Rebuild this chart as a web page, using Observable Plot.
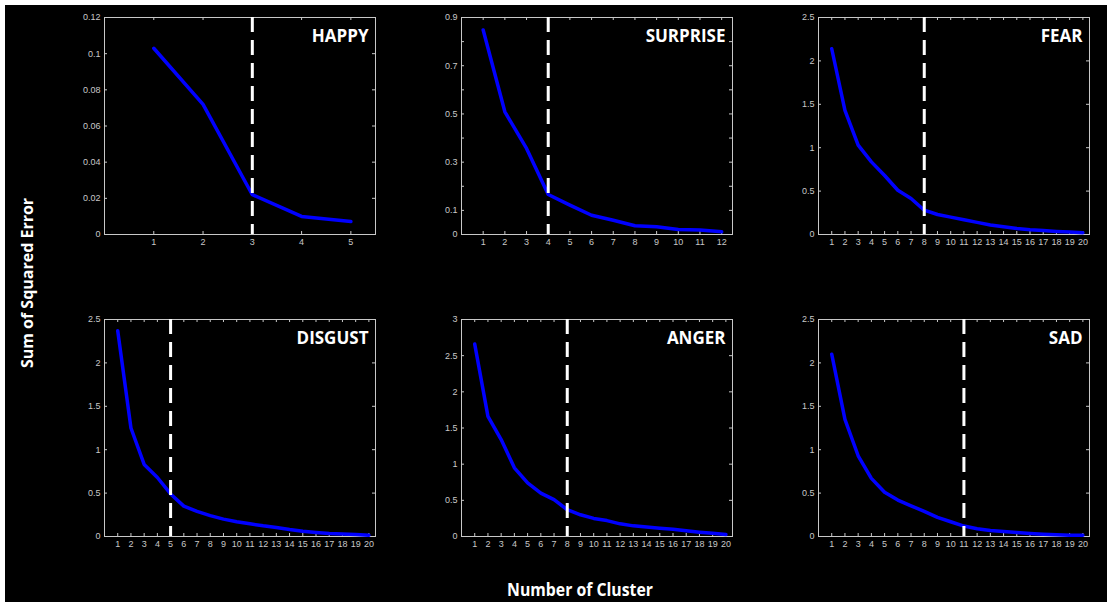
<!DOCTYPE html>
<html>
<head>
<meta charset="utf-8">
<script src="https://cdn.jsdelivr.net/npm/d3@7"></script>
<script src="https://cdn.jsdelivr.net/npm/@observablehq/plot@0.6"></script>
<style>
  html, body { margin: 0; padding: 0; background: #fff; }
  #page { position: relative; width: 1107px; height: 602px; overflow: hidden; background: #fff; }
  #bg { position: absolute; left: 5px; top: 5px; right: 0; bottom: 0; background: #000; }
  .panel { position: absolute; }
  .lbl { position: absolute; color: #fff; font-family: "Open Sans", sans-serif; font-weight: 700; white-space: nowrap; }
</style>
</head>
<body>
<div id="page"><div id="bg"></div></div>
<script>
// ---- data ----
const panelNames = ["HAPPY", "SURPRISE", "FEAR", "DISGUST", "ANGER", "SAD"];
const happySSE = [0.103, 0.072, 0.022, 0.010, 0.0072];
const surpriseSSE = [0.848, 0.509, 0.357, 0.166, 0.122, 0.080, 0.059, 0.036, 0.032, 0.021, 0.019, 0.011];
const fearSSE = [2.14, 1.43, 1.03, 0.837, 0.68, 0.51, 0.415, 0.28, 0.23, 0.20, 0.17, 0.14, 0.11, 0.09, 0.07, 0.055, 0.045, 0.035, 0.028, 0.02];
const disgustSSE = [2.37, 1.25, 0.83, 0.68, 0.49, 0.35, 0.29, 0.24, 0.20, 0.17, 0.146, 0.123, 0.104, 0.08, 0.06, 0.046, 0.035, 0.03, 0.023, 0.015];
const angerSSE = [2.66, 1.66, 1.34, 0.95, 0.74, 0.60, 0.51, 0.37, 0.30, 0.25, 0.22, 0.175, 0.147, 0.13, 0.115, 0.10, 0.078, 0.06, 0.046, 0.028];
const sadSSE = [2.10, 1.35, 0.93, 0.67, 0.51, 0.42, 0.354, 0.29, 0.22, 0.17, 0.12, 0.09, 0.07, 0.058, 0.046, 0.035, 0.027, 0.02, 0.015, 0.015];
const elbows = [3, 4, 8, 5, 8, 11];
const xMaxes = [5.5, 12.5, 20.5, 20.5, 20.5, 20.5];
const xTicks5 = [1, 2, 3, 4, 5];
const xTicks12 = [1, 2, 3, 4, 5, 6, 7, 8, 9, 10, 11, 12];
const xTicks20 = [1, 2, 3, 4, 5, 6, 7, 8, 9, 10, 11, 12, 13, 14, 15, 16, 17, 18, 19, 20];
const yMaxes = [0.12, 0.9, 2.5, 2.5, 3, 2.5];
const yTicksHappy = [0, 0.02, 0.04, 0.06, 0.08, 0.1, 0.12];
const yTicksSurprise = [0, 0.1, 0.2, 0.3, 0.4, 0.5, 0.6, 0.7, 0.8, 0.9];
const yLabelsSurprise = [0, 0.1, 0.3, 0.5, 0.7, 0.9];
const yTicks25 = [0, 0.5, 1, 1.5, 2, 2.5];
const yTicks3 = [0, 0.5, 1, 1.5, 2, 2.5, 3];
const yAxisTitle = "Sum of Squared Error";
const xAxisTitle = "Number of Cluster";

const series = [happySSE, surpriseSSE, fearSSE, disgustSSE, angerSSE, sadSSE];
const xTickSets = [xTicks5, xTicks12, xTicks20, xTicks20, xTicks20, xTicks20];
const yTickSets = [yTicksHappy, yTicksSurprise, yTicks25, yTicks25, yTicks3, yTicks25];
const yLabelSets = [yTicksHappy, yLabelsSurprise, yTicks25, yTicks25, yTicks3, yTicks25];

// ---- layout ----
const W = 271, H = 217, ML = 45, MR = 15, MT = 15, MB = 20, TL = 3;
const lefts = [104, 461, 818];
const tops = [17, 319];
const axisColor = "#c8c8c8";
const page = document.getElementById("page");

series.forEach((vals, i) => {
  const data = vals.map((v, k) => ({k: k + 1, v}));
  const xt = xTickSets[i], yt = yTickSets[i];
  const chart = Plot.plot({
    width: W + ML + MR,
    height: H + MT + MB,
    marginLeft: ML, marginRight: MR, marginTop: MT, marginBottom: MB,
    style: {background: "transparent", color: axisColor, fontFamily: "'Liberation Sans Narrow', 'Liberation Sans', sans-serif", fontSize: "9px"},
    x: {domain: [0, xMaxes[i]]},
    y: {domain: [0, yMaxes[i]]},
    marks: [
      Plot.axisX({ticks: xt, tickSize: 0, tickPadding: 4, tickFormat: d => String(d), label: null}),
      Plot.axisY({ticks: yLabelSets[i], tickSize: 0, tickPadding: 4, tickFormat: d => String(d), label: null}),
      Plot.tickX(xt, {x: d => d, insetTop: H - TL, stroke: axisColor, strokeWidth: 1}),
      Plot.tickX(xt, {x: d => d, insetBottom: H - TL, stroke: axisColor, strokeWidth: 1}),
      Plot.tickY(yt, {y: d => d, insetRight: W - TL, stroke: axisColor, strokeWidth: 1}),
      Plot.tickY(yt, {y: d => d, insetLeft: W - TL, stroke: axisColor, strokeWidth: 1}),
      Plot.frame({stroke: axisColor, strokeWidth: 1}),
      Plot.line(data, {x: "k", y: "v", stroke: "#0000ff", strokeWidth: 3.5, strokeLinejoin: "round"}),
      Plot.ruleX([elbows[i]], {stroke: "#ffffff", strokeWidth: 3, strokeDasharray: "15,8"}),
      Plot.text([panelNames[i]], {text: d => d, frameAnchor: "top-right", textAnchor: "end", lineAnchor: "top", dx: -7, dy: 12,
        fill: "#ffffff", fontSize: 17, fontWeight: "bold", fontFamily: "'Open Sans', sans-serif"})
    ]
  });
  const div = document.createElement("div");
  div.className = "panel";
  div.style.left = (lefts[i % 3] - ML) + "px";
  div.style.top = (tops[Math.floor(i / 3)] - MT) + "px";
  div.appendChild(chart);
  page.appendChild(div);
});

const yl = document.createElement("div");
yl.className = "lbl";
yl.textContent = yAxisTitle;
yl.style.fontSize = "16px";
yl.style.left = "27px";
yl.style.top = "283px";
yl.style.transform = "translate(-50%, -50%) rotate(-90deg)";
page.appendChild(yl);

const xl = document.createElement("div");
xl.className = "lbl";
xl.textContent = xAxisTitle;
xl.style.fontSize = "17px";
xl.style.left = "580px";
xl.style.top = "589px";
xl.style.transform = "translate(-50%, -50%) scaleX(0.93)";
page.appendChild(xl);
</script>
</body>
</html>
